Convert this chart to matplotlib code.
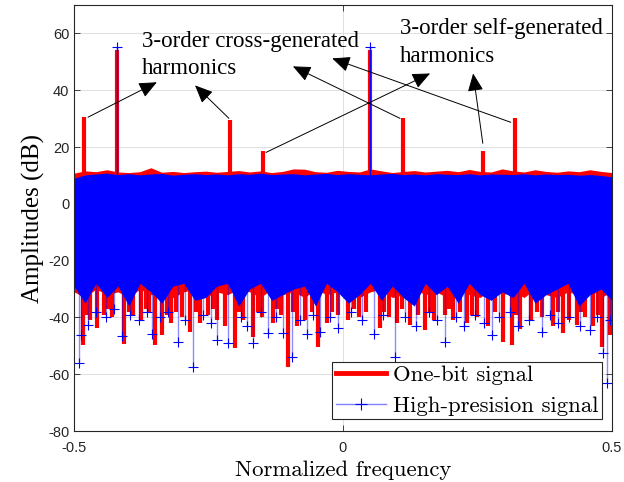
import numpy as np
import matplotlib.pyplot as plt
from matplotlib.lines import Line2D

# Harmonic peaks of the one-bit and high-precision spectra (normalized freq, dB)
peak_freq = [-0.481, -0.42, -0.21, -0.149, 0.05, 0.112, 0.26, 0.32]
onebit_peak = [30.6, 54.3, 29.6, 18.6, 54.0, 30.3, 18.5, 30.1]
hp_peak_freq = [-0.42, 0.05]
hp_peak = [55.2, 55.2]

# Noise floor envelopes on a coarse frequency grid (dB)
onebit_top = [10.8, 11.6, 11.3, 12.0, 11.2, 11.0, 11.3, 12.7, 11.1, 11.4,
              11.0, 11.3, 11.5, 11.1, 11.4, 11.7, 11.2, 11.6, 11.0, 11.4,
              12.3, 12.2, 11.3, 11.1, 11.8, 11.4, 11.2, 12.3, 11.6, 11.0,
              11.4, 11.7, 11.2, 11.5, 11.8, 11.3, 12.1, 11.4, 11.2, 12.3,
              11.6, 11.2, 12.0, 11.4, 11.1, 11.6, 11.3, 12.0, 11.4, 11.0]
onebit_low = [-31, -33, -30, -32, -31, -33, -30, -32, -32, -33,
              -31, -30, -33, -31, -32, -30, -31, -33, -30, -32,
              -31, -33, -30, -32, -31, -32, -33, -31, -30, -33,
              -32, -30, -32, -31, -33, -30, -32, -33, -30, -32,
              -31, -33, -30, -32, -33, -31, -32, -30, -33, -31]
hp_top = [9.0, 10.2, 10.5, 10.8, 10.3, 10.6, 10.2, 10.5, 10.7, 10.1,
          10.4, 10.6, 10.3, 10.5, 10.2, 10.6, 10.4, 10.8, 10.3, 10.5,
          10.6, 10.2, 10.5, 10.7, 10.3, 10.6, 10.4, 10.2, 10.5, 10.7,
          10.3, 10.5, 10.2, 10.6, 10.4, 10.3, 10.6, 10.2, 10.5, 10.4,
          10.3, 10.6, 10.2, 10.5, 10.3, 10.4, 10.1, 10.3, 10.0, 9.5]
hp_low = [-29, -35, -28, -33, -29, -36, -28, -31, -35, -29,
          -28, -34, -33, -29, -28, -36, -30, -28, -34, -32,
          -30, -29, -36, -28, -31, -35, -32, -28, -34, -29,
          -33, -36, -28, -32, -29, -35, -28, -32, -34, -31,
          -33, -28, -35, -32, -30, -28, -36, -32, -30, -34]

# Deep dips below the noise floor
onebit_dip_freq = [-0.483, -0.476, -0.470, -0.457, -0.445, -0.437, -0.430, -0.407,
                   -0.398, -0.390, -0.375, -0.367, -0.360, -0.349, -0.336, -0.328,
                   -0.320, -0.310, -0.300, -0.284, -0.274, -0.265, -0.250, -0.242,
                   -0.235, -0.220, -0.201, -0.193, -0.185, -0.167, -0.158, -0.150,
                   -0.130, -0.122, -0.115, -0.102, -0.093, -0.085, -0.070, -0.058,
                   -0.046, -0.030, -0.020, -0.010, 0.010, 0.020, 0.030, 0.042,
                   0.069, 0.077, 0.085, 0.100, 0.110, 0.125, 0.140, 0.152,
                   0.162, 0.170, 0.190, 0.198, 0.205, 0.218, 0.230, 0.240,
                   0.250, 0.270, 0.282, 0.297, 0.314, 0.322, 0.330, 0.350,
                   0.360, 0.370, 0.390, 0.400, 0.409, 0.420, 0.435, 0.443,
                   0.450, 0.465, 0.474, 0.481, 0.496]
onebit_dip = [-49.7, -39, -41, -43.8, -39, -37, -40, -49.4,
              -38, -39, -41, -37, -38, -49.7, -46.2, -39,
              -42, -38, -40, -45.2, -38, -42, -39, -37,
              -41, -43, -50.8, -38, -41, -46.9, -38, -40,
              -42, -37, -39, -57.5, -38, -43, -41, -38,
              -50.4, -42, -38, -39, -41, -37, -40, -38,
              -43.8, -38, -40, -42, -37, -42.7, -39, -44.5,
              -38, -41, -39, -37, -41, -38, -42, -39,
              -40, -43, -38, -48.7, -49.7, -39, -44, -41,
              -38, -40, -43, -38, -45.5, -41, -42.7, -38,
              -40, -43, -39, -50.4, -46.2]
hp_dip_freq = [-0.491, -0.487, -0.474, -0.460, -0.440, -0.425, -0.411, -0.395,
               -0.380, -0.365, -0.355, -0.340, -0.325, -0.307, -0.293, -0.279,
               -0.260, -0.245, -0.234, -0.213, -0.190, -0.178, -0.167, -0.152,
               -0.139, -0.125, -0.111, -0.095, -0.080, -0.067, -0.055, -0.043,
               -0.025, -0.009, 0.015, 0.035, 0.058, 0.075, 0.097, 0.115,
               0.135, 0.160, 0.175, 0.190, 0.210, 0.225, 0.245, 0.262,
               0.277, 0.290, 0.310, 0.325, 0.345, 0.370, 0.385, 0.400,
               0.420, 0.440, 0.459, 0.472, 0.483, 0.490, 0.497]
hp_dip = [-56.1, -46.2, -42.7, -38, -40, -37, -46.6, -39,
          -41, -38, -45.9, -40, -38, -48.7, -41, -57.5,
          -39, -42, -48, -49, -40, -43, -49, -38,
          -45.5, -40, -45.5, -54, -41, -46, -39, -45.2,
          -40, -43.8, -38, -41, -45.9, -39, -54, -40,
          -43, -38, -41, -48.7, -40, -43, -39, -42,
          -46.2, -40, -38, -43, -41, -45.2, -39, -42,
          -40, -43, -44.5, -40, -52.6, -63, -41]

serif = 'Liberation Serif'
cm = 'cmr10'

fig = plt.figure(figsize=(6.24, 4.82), dpi=100)
ax = fig.add_axes([0.1186, 0.1058, 0.862, 0.8838])

grid = np.linspace(-0.5, 0.5, len(onebit_top))

# one-bit spectrum (thick red)
ax.fill_between(grid, onebit_low, onebit_top, color='red', lw=0, zorder=2)
ax.vlines(onebit_dip_freq, -30, onebit_dip, color='red', lw=3, zorder=2)
ax.vlines(peak_freq, 0, onebit_peak, color='red', lw=3, zorder=2)

# high-precision spectrum (thin blue with + markers)
ax.fill_between(grid, hp_low, hp_top, color='blue', lw=0, zorder=3)
ax.vlines(hp_dip_freq, -28, hp_dip, color=(0, 0, 1, 0.45), lw=1, zorder=3)
ax.plot(hp_dip_freq, hp_dip, '+', color='blue', ms=7.5, mew=0.8, zorder=4)
ax.vlines(hp_peak_freq, 0, hp_peak, color='blue', lw=1, zorder=3)
ax.plot(hp_peak_freq, hp_peak, '+', color='blue', ms=7.5, mew=0.8, zorder=4)

ax.set_xlim(-0.5, 0.5)
ax.set_ylim(-80, 70)
ax.set_xticks([-0.5, 0, 0.5])
ax.set_xticklabels(['-0.5', '0', '0.5'], family='Liberation Sans')
ax.set_yticks(range(-80, 61, 20))
ax.set_yticklabels([str(v) for v in range(-80, 61, 20)], family='Liberation Sans')
ax.tick_params(direction='in', top=True, right=True, length=4, width=0.6,
               colors='#262626', labelsize=10.5)
ax.tick_params(axis='x', pad=7)
ax.grid(True, color='#e0e0e0', lw=0.7)
ax.set_axisbelow(True)
for s in ax.spines.values():
    s.set_color('#262626')
    s.set_linewidth(0.8)
    s.set_zorder(5)

ax.set_xlabel('Normalized frequency', family=cm, fontsize=16.4, labelpad=4)
ax.set_ylabel('Amplitudes (dB)', family=serif, fontsize=18, labelpad=2)

# annotations
arrow = dict(arrowstyle='-|>,head_length=0.5,head_width=0.22', color='black',
             lw=0.7, mutation_scale=22, shrinkA=0, shrinkB=0)
ax.text(-0.374, 61, '3-order cross-generated\nharmonics', family=serif,
        fontsize=16.5, va='top', ha='left', linespacing=1.42)
ax.text(0.106, 65.5, '3-order self-generated\nharmonics', family=serif,
        fontsize=16.5, va='top', ha='left', linespacing=1.42)
for head, tail in [((-0.346, 42.8), (-0.474, 30.5)),
                   ((-0.275, 41.7), (-0.212, 30.1)),
                   ((-0.093, 48.4), (0.106, 30.1)),
                   ((0.162, 45.9), (-0.143, 18.1)),
                   ((-0.020, 51.2), (0.312, 28.7)),
                   ((0.242, 45.9), (0.260, 21.3))]:
    ax.annotate('', xy=head, xytext=tail, arrowprops=arrow)

handles = [Line2D([], [], color='red', lw=3.5),
           Line2D([], [], color=(0, 0, 1, 0.5), lw=1, marker='+', ms=9,
                  mec='blue', mew=0.8)]
leg = ax.legend(handles, ['One-bit signal', 'High-presision signal'],
                loc='lower right', bbox_to_anchor=(0.981, 0.028),
                borderaxespad=0, prop={'family': cm, 'size': 16.4},
                fancybox=False, framealpha=1, edgecolor='#262626',
                handlelength=2.2, handletextpad=0.3, borderpad=0.15,
                labelspacing=0.45)
leg.get_frame().set_linewidth(0.8)
leg.set_zorder(6)

fig.savefig('out.png', dpi=100)
